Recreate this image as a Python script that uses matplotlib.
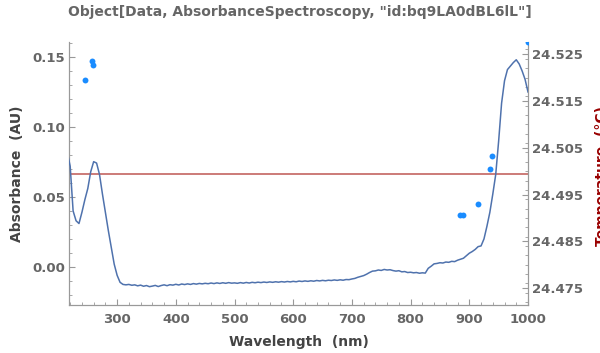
import numpy as np
import matplotlib
matplotlib.use("Agg")
import matplotlib.pyplot as plt
from matplotlib.ticker import MultipleLocator, FormatStrFormatter

# ---- data ----
wavelength = np.arange(215, 1001, 5)
absorbance = [
    0.082, 0.072, 0.040, 0.033, 0.031, 0.039, 0.048, 0.056, 0.068, 0.0752,
    0.0742, 0.066, 0.052, 0.039, 0.026, 0.014, 0.002, -0.006, -0.011, -0.0125,
    -0.0128, -0.0125, -0.0131, -0.0128, -0.0135, -0.0130, -0.0138, -0.0133, -0.0141, -0.0137,
    -0.0132, -0.0140, -0.0133, -0.0128, -0.0134, -0.0127, -0.0130, -0.0124, -0.0129, -0.0122,
    -0.0126, -0.0121, -0.0125, -0.0119, -0.0123, -0.0118, -0.0121, -0.0117, -0.0120, -0.0115,
    -0.0119, -0.0114, -0.0118, -0.0113, -0.0117, -0.0112, -0.0116, -0.0114, -0.0117, -0.0112,
    -0.0116, -0.0111, -0.0115, -0.0110, -0.0113, -0.0109, -0.0112, -0.0108, -0.0111, -0.0107,
    -0.0110, -0.0106, -0.0109, -0.0105, -0.0108, -0.0104, -0.0107, -0.0103, -0.0106, -0.0101,
    -0.0104, -0.0100, -0.0103, -0.0099, -0.0102, -0.0097, -0.0100, -0.0096, -0.0099, -0.0095,
    -0.0097, -0.0093, -0.0096, -0.0092, -0.0095, -0.0090, -0.0091, -0.0086, -0.0082, -0.0074,
    -0.0068, -0.0062, -0.0052, -0.0040, -0.0030, -0.0028, -0.0022, -0.0025, -0.0018, -0.0022,
    -0.0020, -0.0026, -0.0030, -0.0027, -0.0035, -0.0033, -0.0040, -0.0038, -0.0042, -0.0040,
    -0.0045, -0.0042, -0.0044, -0.0010, 0.0005, 0.0022, 0.0025, 0.0030, 0.0028, 0.0035,
    0.0033, 0.0040, 0.0038, 0.0048, 0.0055, 0.0062, 0.0080, 0.0098, 0.0110, 0.0125,
    0.0145, 0.0150, 0.0200, 0.0290, 0.0390, 0.0520, 0.0660, 0.0900, 0.1170, 0.1330,
    0.1410, 0.1435, 0.1460, 0.1480, 0.1450, 0.1400, 0.1340, 0.1250,
]

point_wl = [245.5, 257.5, 259.0, 884.0, 888.5, 914.5, 935.0, 939.0, 1000.0]
point_abs = [0.1336, 0.1474, 0.1445, 0.0374, 0.0374, 0.0452, 0.0702, 0.0795, 0.1607]

temperature = 24.4994

title = 'Object[Data, AbsorbanceSpectroscopy, "id:bq9LA0dBL6lL"]'

# ---- plot ----
plt.rcParams['font.family'] = ['DejaVu Sans']
plt.rcParams['font.weight'] = 'bold'

fig = plt.figure(figsize=(6.0, 3.53), dpi=100)
ax = fig.add_axes([69/600, 1-305/353, (528-69)/600, (305-42)/353])
ax2 = ax.twinx()

ax.plot(wavelength, absorbance, color='#4f72ad', lw=1.1, zorder=3)
ax.scatter(point_wl, point_abs, s=18, color='#1a8cff', zorder=4, linewidths=0)
ax2.axhline(temperature, color='#c8716d', lw=1.3)

ax.set_xlim(218, 1000)
ax.set_ylim(-0.0272, 0.1607)
ax2.set_ylim(24.4714, 24.5276)

ax.set_zorder(ax2.get_zorder() + 1)
ax.patch.set_visible(False)

grey = '#999999'
for a in (ax, ax2):
    for s in a.spines.values():
        s.set_color(grey)
    a.spines['top'].set_visible(False)

ax.xaxis.set_major_locator(MultipleLocator(100))
ax.xaxis.set_minor_locator(MultipleLocator(20))
ax.yaxis.set_major_locator(MultipleLocator(0.05))
ax.yaxis.set_minor_locator(MultipleLocator(0.01))
ax.yaxis.set_major_formatter(FormatStrFormatter('%.2f'))
ax2.yaxis.set_major_locator(MultipleLocator(0.01))
ax2.yaxis.set_minor_locator(MultipleLocator(0.002))
ax2.yaxis.set_major_formatter(FormatStrFormatter('%.3f'))
ax2.set_yticks(np.arange(24.475, 24.526, 0.01))

tick_color = '#666666'
ax.tick_params(axis='both', which='major', direction='in', length=4, width=0.8,
               color=grey, labelcolor=tick_color, labelsize=9.5)
ax.tick_params(axis='both', which='minor', direction='in', length=2.5, width=0.6, color=grey)
ax.tick_params(axis='x', which='major', pad=6)
ax.tick_params(axis='y', which='major', pad=3)
ax2.tick_params(axis='y', which='major', direction='in', length=4, width=0.8,
                color=grey, labelcolor=tick_color, labelsize=9.5, pad=3)
ax2.tick_params(axis='y', which='minor', direction='in', length=2.5, width=0.6, color=grey)
ax.tick_params(axis='x', which='both', top=False)

ax.set_xlabel('Wavelength  (nm)', color='#444444', fontsize=10, fontweight='bold', labelpad=6)
ax.set_ylabel('Absorbance  (AU)', color='#444444', fontsize=10, fontweight='bold', labelpad=6)

fig.text(0.991, 0.5, 'Temperature  (°C)', color='#990000', fontsize=10, fontweight='bold',
         rotation=90, ha='left', va='center')

fig.text(0.5, 0.965, title, color='#666666', fontsize=10, fontweight='bold',
         ha='center', va='center')

fig.savefig('out.png', dpi=100)
